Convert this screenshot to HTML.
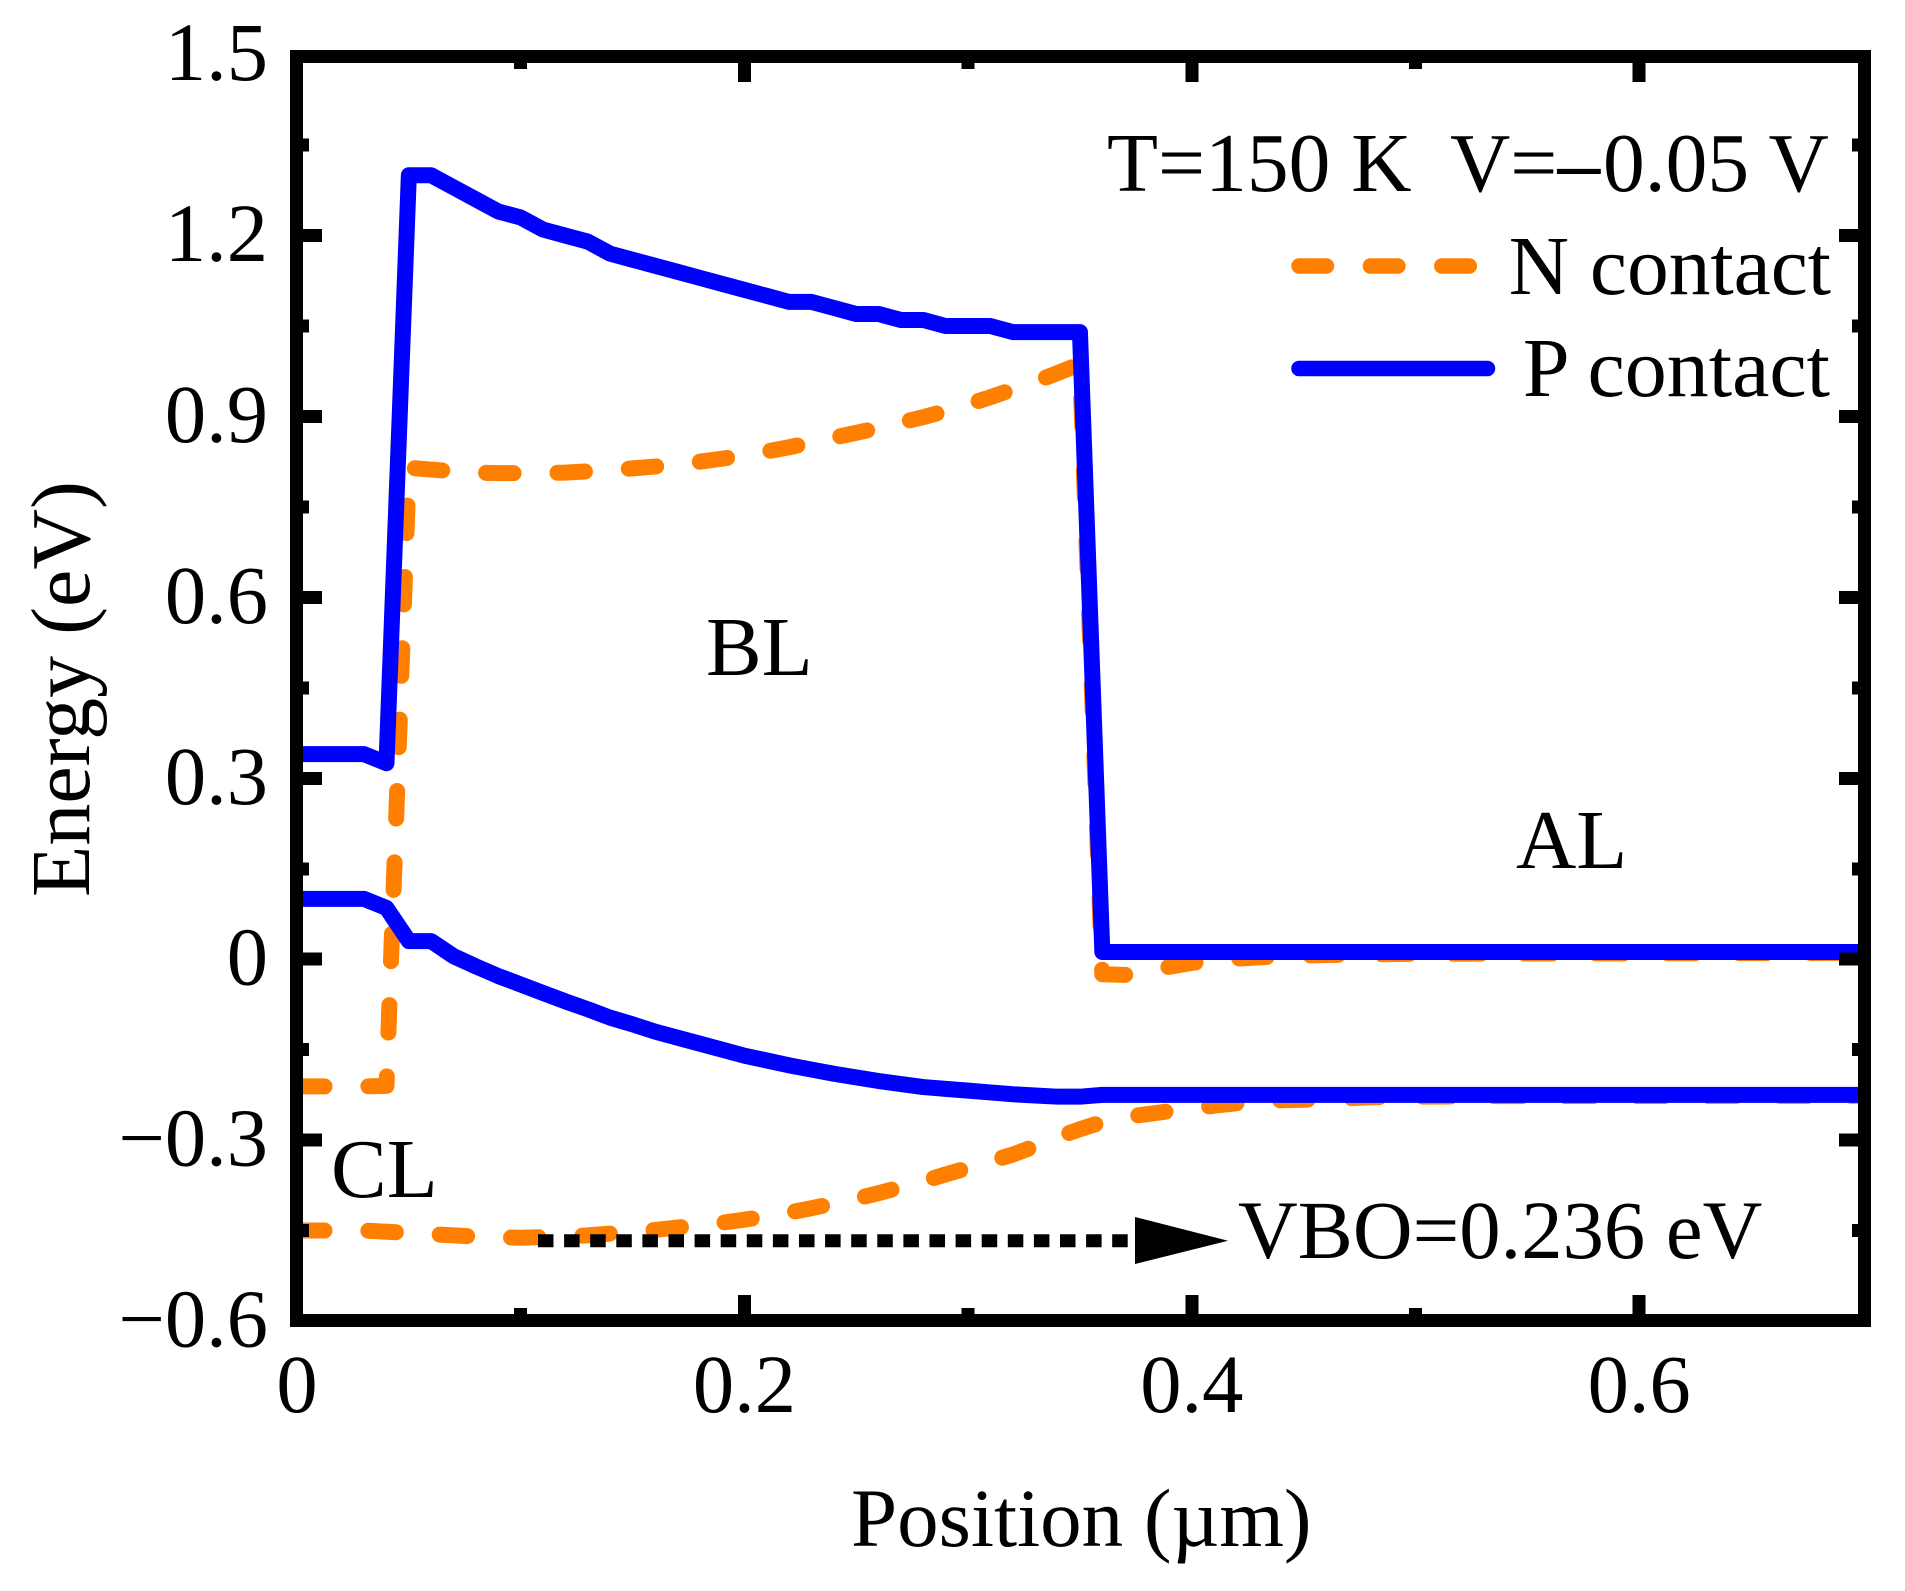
<!DOCTYPE html>
<html lang="en">
<head>
<meta charset="utf-8">
<title>Energy band diagram</title>
<style>
html,body{margin:0;padding:0;background:#fff;width:1905px;height:1591px;overflow:hidden}
svg{display:block}
text{font-family:"Liberation Serif",serif;font-size:83.5px;fill:#000}
text.tick{font-size:82.5px}
</style>
</head>
<body>
<svg id="chart" xmlns="http://www.w3.org/2000/svg" width="1905" height="1591" viewBox="0 0 1905 1591">
  <defs>
    <clipPath id="plot-clip"><rect x="296.4" y="56.4" width="1568.2" height="1264.1"/></clipPath>
  </defs>
  <g id="series-layer" clip-path="url(#plot-clip)"></g>
  <g id="axis-layer"></g>
  <g id="tick-label-layer"></g>
  <text x="851" y="1546" style="font-size:83px">Position (µm)</text>
  <text transform="translate(89,689) rotate(-90)" text-anchor="middle" style="font-size:84px">Energy (eV)</text>
  <text y="191"><tspan x="1107">T=150 K</tspan><tspan x="1450">V=</tspan><tspan x="1558" stroke="#000" stroke-width="1">–</tspan><tspan x="1603">0.05 V</tspan></text>
  <line x1="1299" y1="266" x2="1470" y2="266" stroke="#ff8000" stroke-width="15.5" stroke-linecap="round" stroke-dasharray="27.5 43.9"/>
  <text x="1831" y="294" text-anchor="end">N contact</text>
  <line x1="1299" y1="368.5" x2="1487.5" y2="368.5" stroke="#0000ff" stroke-width="15.5" stroke-linecap="round"/>
  <text x="1830" y="396" text-anchor="end" style="font-size:84px">P contact</text>
  <text x="706" y="675">BL</text>
  <text x="1516" y="868">AL</text>
  <text x="331" y="1197">CL</text>
  <line x1="538" y1="1240.7" x2="1140" y2="1240.7" stroke="#000" stroke-width="13" stroke-dasharray="15.5 10.6"/>
  <polygon points="1135,1217 1228,1240.7 1135,1264" fill="#000"/>
  <text x="1238" y="1258" style="font-size:82.7px">VBO=0.236 eV</text>
</svg>
<script>
var xTickValues = [0, 0.2, 0.4, 0.6];
var xTickLabels = ['0', '0.2', '0.4', '0.6'];
var xMinorValues = [0.1, 0.3, 0.5];
var yTickValues = [-0.6, -0.3, 0, 0.3, 0.6, 0.9, 1.2, 1.5];
var yTickLabels = ['\u22120.6', '\u22120.3', '0', '0.3', '0.6', '0.9', '1.2', '1.5'];
var yMinorValues = [-0.45, -0.15, 0.15, 0.45, 0.75, 1.05, 1.35];

var pUpperX = [0, 0.01, 0.02, 0.03, 0.04, 0.05, 0.06, 0.07, 0.08, 0.09, 0.10, 0.11, 0.12, 0.13, 0.14, 0.15, 0.16, 0.17, 0.18, 0.19, 0.20, 0.21, 0.22, 0.23, 0.24, 0.25, 0.26, 0.27, 0.28, 0.29, 0.30, 0.31, 0.32, 0.33, 0.34, 0.35, 0.36, 0.70];
var pUpperY = [0.34, 0.34, 0.34, 0.34, 0.325, 1.30, 1.30, 1.28, 1.26, 1.24, 1.23, 1.21, 1.20, 1.19, 1.17, 1.16, 1.15, 1.14, 1.13, 1.12, 1.11, 1.10, 1.09, 1.09, 1.08, 1.07, 1.07, 1.06, 1.06, 1.05, 1.05, 1.05, 1.04, 1.04, 1.04, 1.04, 0.012, 0.012];

var pLowerX = [0, 0.01, 0.02, 0.03, 0.04, 0.05, 0.06, 0.07, 0.08, 0.09, 0.10, 0.11, 0.12, 0.13, 0.14, 0.15, 0.16, 0.17, 0.18, 0.19, 0.20, 0.21, 0.22, 0.23, 0.24, 0.25, 0.26, 0.27, 0.28, 0.29, 0.30, 0.31, 0.32, 0.33, 0.34, 0.35, 0.36, 0.70];
var pLowerY = [0.10, 0.10, 0.10, 0.10, 0.085, 0.03, 0.03, 0.005, -0.012, -0.028, -0.042, -0.056, -0.07, -0.083, -0.097, -0.108, -0.12, -0.13, -0.14, -0.15, -0.16, -0.168, -0.176, -0.183, -0.19, -0.196, -0.202, -0.207, -0.212, -0.215, -0.218, -0.221, -0.224, -0.226, -0.228, -0.228, -0.225, -0.225];

var nUpperX = [0, 0.01, 0.02, 0.03, 0.04, 0.05, 0.06, 0.07, 0.08, 0.09, 0.10, 0.11, 0.12, 0.13, 0.14, 0.15, 0.16, 0.17, 0.18, 0.19, 0.20, 0.21, 0.22, 0.23, 0.24, 0.25, 0.26, 0.27, 0.28, 0.29, 0.30, 0.31, 0.32, 0.33, 0.34, 0.35, 0.36, 0.37, 0.38, 0.39, 0.40, 0.41, 0.42, 0.43, 0.44, 0.46, 0.50, 0.70];
var nUpperY = [-0.211, -0.211, -0.211, -0.211, -0.21, 0.815, 0.812, 0.809, 0.807, 0.806, 0.806, 0.806, 0.807, 0.809, 0.811, 0.814, 0.817, 0.821, 0.825, 0.83, 0.836, 0.842, 0.849, 0.857, 0.865, 0.873, 0.881, 0.89, 0.899, 0.909, 0.92, 0.932, 0.945, 0.958, 0.972, 0.987, -0.025, -0.026, -0.02, -0.0125, -0.006, -0.002, 0.001, 0.003, 0.005, 0.007, 0.009, 0.0105];

var nLowerX = [0, 0.01, 0.02, 0.03, 0.04, 0.05, 0.06, 0.07, 0.08, 0.09, 0.10, 0.11, 0.12, 0.13, 0.14, 0.15, 0.16, 0.17, 0.18, 0.19, 0.20, 0.21, 0.22, 0.23, 0.24, 0.25, 0.26, 0.27, 0.28, 0.29, 0.30, 0.31, 0.32, 0.33, 0.34, 0.35, 0.36, 0.37, 0.38, 0.39, 0.40, 0.41, 0.42, 0.43, 0.44, 0.46, 0.48, 0.50, 0.54, 0.70];
var nLowerY = [-0.45, -0.45, -0.45, -0.45, -0.452, -0.454, -0.456, -0.458, -0.46, -0.461, -0.462, -0.461, -0.46, -0.458, -0.455, -0.452, -0.449, -0.445, -0.441, -0.437, -0.432, -0.426, -0.42, -0.413, -0.405, -0.397, -0.388, -0.378, -0.368, -0.357, -0.346, -0.335, -0.324, -0.31, -0.295, -0.282, -0.27, -0.262, -0.257, -0.252, -0.248, -0.243, -0.239, -0.236, -0.234, -0.232, -0.229, -0.228, -0.227, -0.2265];

var NS = 'http://www.w3.org/2000/svg';
var xScale = function (v) { return 297 + v * 2237; };
var yScale = function (v) { return 1321 - (v + 0.6) * 603; };
var LEFT = 296.4, RIGHT = 1864.6, TOP = 56.4, BOTTOM = 1320.5, AXW = 13;

function pathFrom(xs, ys) {
  var d = '';
  for (var i = 0; i < xs.length; i++) {
    d += (i ? 'L' : 'M') + xScale(xs[i]).toFixed(2) + ' ' + yScale(ys[i]).toFixed(2);
  }
  return d;
}
function makeSeries(xs, ys, colour, dashed) {
  var p = document.createElementNS(NS, 'path');
  p.setAttribute('d', pathFrom(xs, ys));
  p.setAttribute('fill', 'none');
  p.setAttribute('stroke', colour);
  p.setAttribute('stroke-width', '16');
  p.setAttribute('stroke-linecap', 'round');
  p.setAttribute('stroke-linejoin', 'round');
  if (dashed) p.setAttribute('stroke-dasharray', '27.5 43.9');
  return p;
}
var seriesLayer = document.getElementById('series-layer');
var axisLayer = document.getElementById('axis-layer');
var labelLayer = document.getElementById('tick-label-layer');

var s1 = makeSeries(nUpperX, nUpperY, '#ff8000', true);


seriesLayer.appendChild(s1);
var s2 = makeSeries(nLowerX, nLowerY, '#ff8000', true);


seriesLayer.appendChild(s2);
var s3 = makeSeries(pUpperX, pUpperY, '#0000ff', false);


seriesLayer.appendChild(s3);
var s4 = makeSeries(pLowerX, pLowerY, '#0000ff', false);


seriesLayer.appendChild(s4);

var frame = document.createElementNS(NS, 'rect');


frame.setAttribute('x', LEFT);
frame.setAttribute('y', TOP);
frame.setAttribute('width', RIGHT - LEFT);
frame.setAttribute('height', BOTTOM - TOP);
frame.setAttribute('fill', 'none');
frame.setAttribute('stroke', '#000');
frame.setAttribute('stroke-width', AXW);
frame.setAttribute('shape-rendering', 'crispEdges');
axisLayer.appendChild(frame);

function tickRect(x, y, w, h) {
  var r = document.createElementNS(NS, 'rect');
  r.setAttribute('x', x);
  r.setAttribute('y', y);
  r.setAttribute('width', w);
  r.setAttribute('height', h);
  r.setAttribute('fill', '#000');
  r.setAttribute('shape-rendering', 'crispEdges');
  return r;
}
function xTicks(values, len, name) {
  values.forEach(function (v) {
    if (v <= 0 || v >= 0.7) return;
    var bottom = tickRect(xScale(v) - AXW / 2, BOTTOM - AXW / 2 - len, AXW, len);
    
    
    axisLayer.appendChild(bottom);
    var top = tickRect(xScale(v) - AXW / 2, TOP + AXW / 2, AXW, len);
    
    
    axisLayer.appendChild(top);
  });
}
function yTicks(values, len, name) {
  values.forEach(function (v) {
    if (v <= -0.6 || v >= 1.5) return;
    var left = tickRect(LEFT + AXW / 2, yScale(v) - AXW / 2, len, AXW);
    
    
    axisLayer.appendChild(left);
    var right = tickRect(RIGHT - AXW / 2 - len, yScale(v) - AXW / 2, len, AXW);
    
    
    axisLayer.appendChild(right);
  });
}
xTicks(xTickValues, 19, 'x-major-tick');
xTicks(xMinorValues, 6, 'x-minor-tick');
yTicks(yTickValues, 19, 'y-major-tick');
yTicks(yMinorValues, 6, 'y-minor-tick');

xTickValues.forEach(function (v, i) {
  var t = document.createElementNS(NS, 'text');
  t.setAttribute('class', 'tick');
  
  
  t.setAttribute('x', xScale(v));
  t.setAttribute('y', 1412);
  t.setAttribute('text-anchor', 'middle');
  t.textContent = xTickLabels[i];
  labelLayer.appendChild(t);
});
yTickValues.forEach(function (v, i) {
  var t = document.createElementNS(NS, 'text');
  t.setAttribute('class', 'tick');
  
  
  t.setAttribute('x', 268);
  t.setAttribute('y', yScale(v) + 25.5);
  t.setAttribute('text-anchor', 'end');
  t.textContent = yTickLabels[i];
  labelLayer.appendChild(t);
});
</script>
</body>
</html>
